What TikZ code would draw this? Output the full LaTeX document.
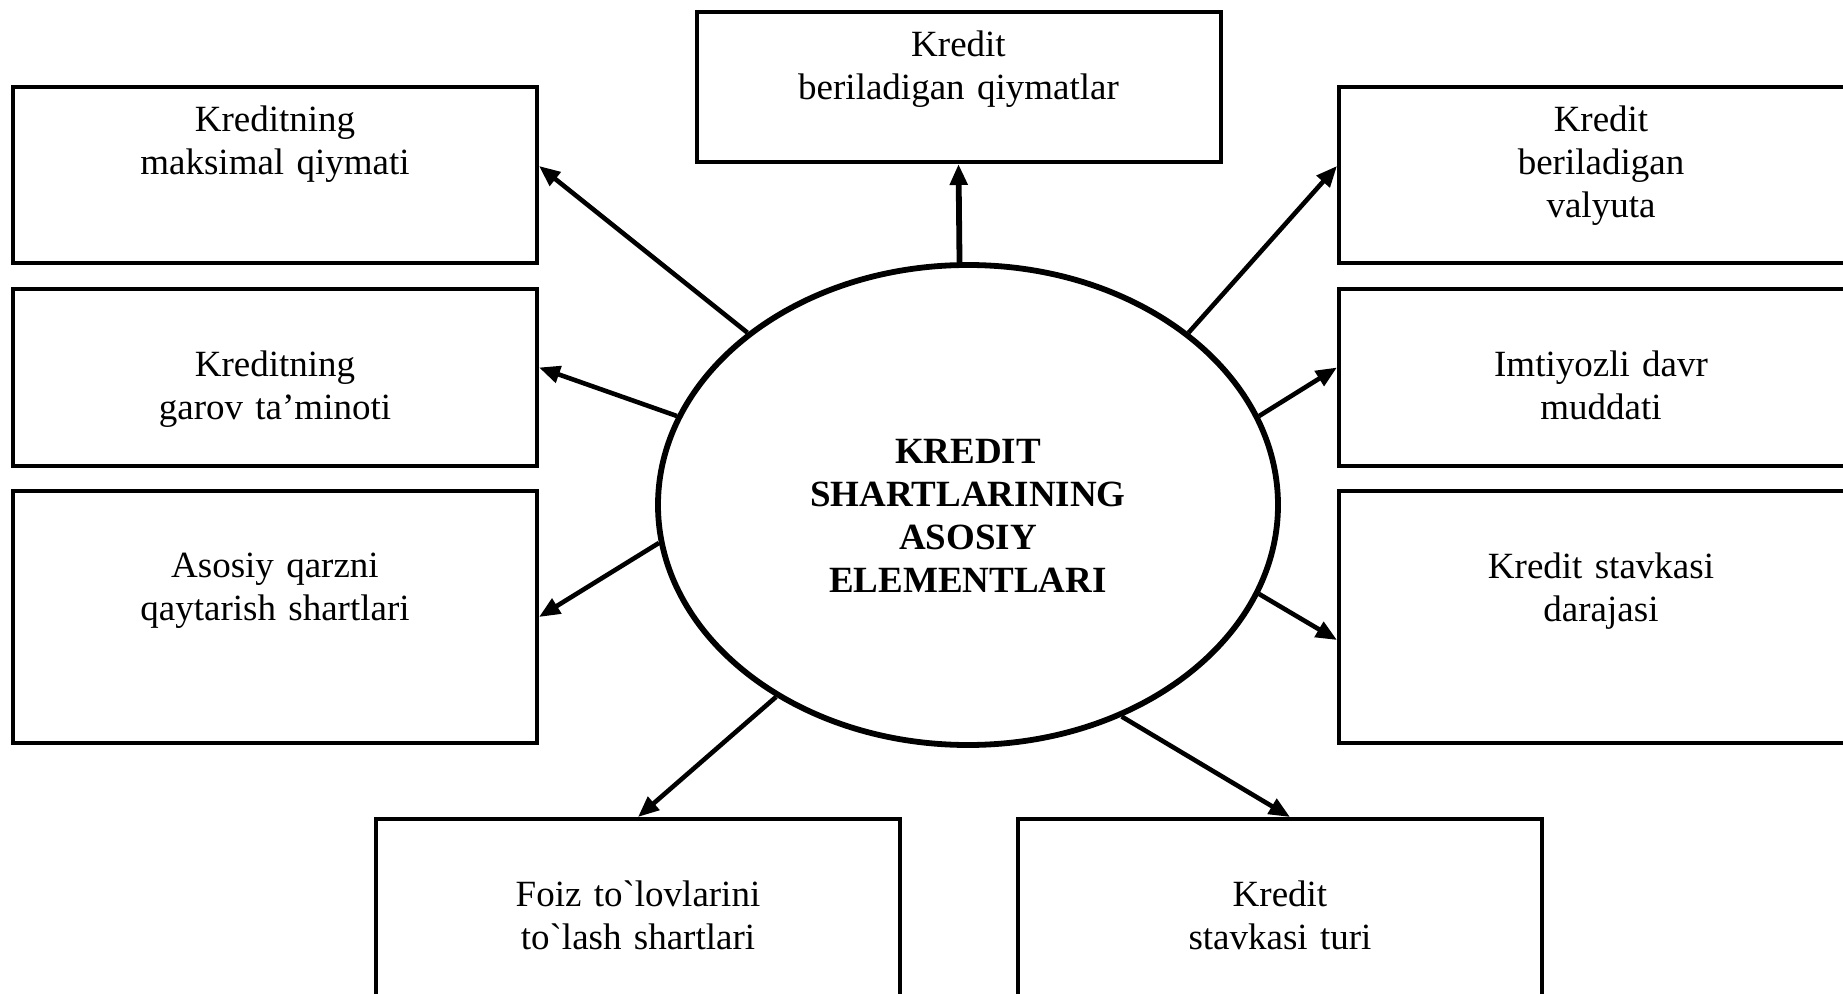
\documentclass[tikz,border=0pt]{standalone}
\usepackage{fontspec}
\setmainfont{Liberation Serif}
\usetikzlibrary{positioning,arrows.meta,shapes.geometric}

\begin{document}
\begin{tikzpicture}[x=.5pt, y=-.5pt,
  box/.style={draw, line width=2pt, minimum width=262pt, inner sep=0pt},
  txt/.style={text width=262pt, align=center, inner sep=0pt, font=\fontsize{18.5}{21.5}\selectfont},
  arr/.style={draw, line width=2.3pt, -{Triangle[length=10.5pt,width=8.5pt]}}]
\useasboundingbox (0,0) rectangle (1843,994);
\clip (0,0) rectangle (1843,994);
% centre
\node [draw, ellipse, line width=2.9pt, minimum width=310pt, minimum height=240pt] (core) at (968,505) {};
\node [txt, font=\fontsize{18.5}{21.5}\selectfont\bfseries] at ([yshift=-5.5pt]core.center) {KREDIT\\SHARTLARINING\\ASOSIY\\ELEMENTLARI};
% boxes
\node [box, minimum height=75pt] (qiymat) at (958.5,87) {};
\node [box, minimum height=88pt] (maxq) at (275,175) {};
\node [box, minimum height=88.5pt] (garov) at (275,377.5) {};
\node [box, minimum height=126pt] (qarz) at (275,617) {};
\node [box, minimum height=88pt] (valyuta) at (1601,175) {};
\node [box, minimum height=88.5pt] (imtiyoz) at (1601,377.5) {};
\node [box, minimum height=126pt] (daraja) at (1601,617) {};
\node [box, minimum height=126pt] (foiz) at (638,945) {};
\node [box, minimum height=126pt] (turi) at (1280,945) {};
% texts
\node [txt, below=10.4pt of qiymat.north] {Kredit\\beriladigan qiymatlar};
\node [txt, below=10.4pt of maxq.north] {Kreditning\\maksimal qiymati};
\node [txt, below=31.6pt of garov.north] {Kreditning\\garov ta’minoti};
\node [txt, below=31.6pt of qarz.north] {Asosiy qarzni\\qaytarish shartlari};
\node [txt, below=10.4pt of valyuta.north] {Kredit\\beriladigan\\valyuta};
\node [txt, below=31.6pt of imtiyoz.north] {Imtiyozli davr\\muddati};
\node [txt, below=31.6pt of daraja.north] {Kredit stavkasi\\darajasi};
\node [txt, below=31.6pt of foiz.north] {Foiz to\textasciigrave lovlarini\\to\textasciigrave lash shartlari};
\node [txt, below=31.6pt of turi.north] {Kredit\\stavkasi turi};
% arrows
\path [arr, line width=2.9pt] (core.92) -- (qiymat.south);
\path [arr] (core.142) -- ([yshift=4.5pt]maxq.east);
\path [arr] (core.163) -- ([yshift=5pt]garov.east);
\path [arr] (core.187) -- (qarz.east);
\path [arr] (core.225) -- (foiz.north);
\path [arr] (core.306) -- ([xshift=5pt]turi.north);
\path [arr] (core.343) -- ([yshift=-11.5pt]daraja.west);
\path [arr] (core.17) -- ([yshift=5pt]imtiyoz.west);
\path [arr] (core.38) -- ([yshift=4.5pt]valyuta.west);
\end{tikzpicture}
\end{document}
